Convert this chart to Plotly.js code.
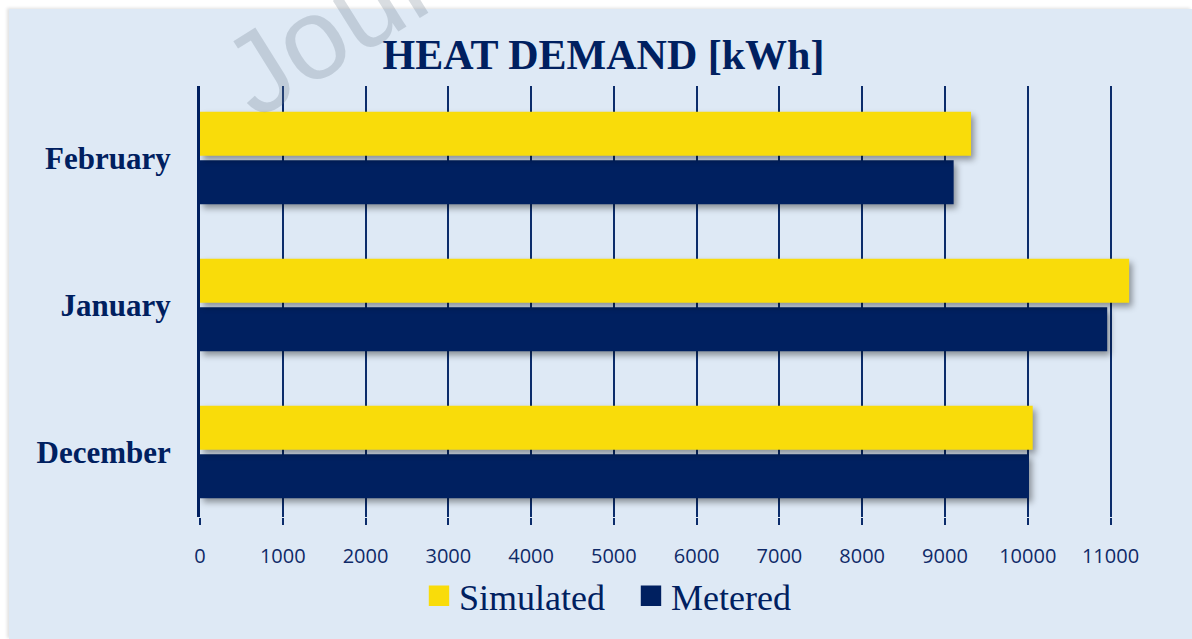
<!DOCTYPE html>
<html>
<head>
<meta charset="utf-8">
<script src="https://cdn.plot.ly/plotly-3.0.1.min.js"></script>
<style>
  html, body { margin: 0; padding: 0; background: #ffffff; }
  body { width: 1192px; height: 639px; position: relative; overflow: hidden; }
  #panel {
    position: absolute; left: 9px; top: 9px; width: 1183px; height: 630px;
    background: #dee9f5;
    box-shadow: -2px -1px 3px rgba(0,0,0,0.12);
  }
  #chart { position: absolute; left: 0; top: 0; width: 1192px; height: 639px; }
  /* soft drop shadow under every bar */
  #chart .barlayer .point path { filter: drop-shadow(3px 4px 3px rgba(0,0,0,0.38)); }
  /* larger square swatches in the legend */
  #chart .legend .legendpoints path { transform: translate(20px, 0px) scale(1.7); }
</style>
</head>
<body>
<div id="panel"></div>
<div id="chart"></div>
<script>
// Monthly heat demand, kWh
const months = ['December', 'January', 'February'];
const simulated = [10060, 11225, 9315];
const metered = [10015, 10960, 9105];
const xTicks = [0, 1000, 2000, 3000, 4000, 5000, 6000, 7000, 8000, 9000, 10000, 11000];

const NAVY = '#002060';
const YELLOW = '#f9dc0a';

const traces = [
  {
    type: 'bar', orientation: 'h', name: 'Metered',
    y: months, x: metered,
    marker: { color: NAVY, line: { width: 0 } },
    hoverinfo: 'x+name'
  },
  {
    type: 'bar', orientation: 'h', name: 'Simulated',
    y: months, x: simulated,
    marker: { color: YELLOW, line: { width: 0 } },
    hoverinfo: 'x+name'
  }
];

const layout = {
  width: 1192, height: 639,
  paper_bgcolor: 'rgba(0,0,0,0)',
  plot_bgcolor: 'rgba(0,0,0,0)',
  margin: { l: 199.5, r: 6.7, t: 86, b: 122, pad: 0 },
  barmode: 'group',
  bargap: 0.34,
  bargroupgap: 0.09,
  title: {
    text: '<b>HEAT DEMAND [kWh]</b>',
    font: { family: 'Liberation Serif', size: 42, color: NAVY },
    x: 0.5063, xanchor: 'center', xref: 'container',
    y: 0.9155, yanchor: 'middle', yref: 'container'
  },
  xaxis: {
    range: [0, 11900], autorange: false,
    tickmode: 'array', tickvals: xTicks, ticktext: xTicks.map(String),
    showgrid: true, gridcolor: '#0b2c6b', gridwidth: 2,
    zeroline: false,
    showline: false,
    ticks: 'outside', ticklen: 7, tickwidth: 2, tickcolor: '#0b2c6b',
    tickfont: { family: 'Open Sans', size: 20, color: '#0f2a68' },
    ticklabelstandoff: 14,
    fixedrange: true
  },
  yaxis: {
    type: 'category', categoryorder: 'array', categoryarray: months,
    range: [-0.442, 2.49], autorange: false,
    showgrid: false, zeroline: false,
    showline: true, linecolor: '#001f5f', linewidth: 3,
    ticks: '',
    tickfont: { family: 'Liberation Serif', size: 31, color: NAVY, weight: 'bold' },
    ticklabelstandoff: 20,
    fixedrange: true
  },
  showlegend: true,
  legend: {
    orientation: 'h', traceorder: 'reversed',
    xref: 'container', yref: 'container',
    x: 0.3515, xanchor: 'left',
    y: 0.0675, yanchor: 'middle',
    bgcolor: 'rgba(0,0,0,0)', borderwidth: 0,
    font: { family: 'Liberation Serif', size: 36, color: NAVY },
    entrywidth: 167, entrywidthmode: 'pixels',
    itemclick: false, itemdoubleclick: false
  },
  annotations: [
    {
      // faint diagonal watermark
      text: 'Journal Pre-proof',
      xref: 'paper', yref: 'paper',
      x: 0.4178, y: 1.545,
      xanchor: 'center', yanchor: 'middle',
      textangle: -32,
      showarrow: false,
      font: { family: 'Liberation Sans', size: 115, color: 'rgba(110,125,140,0.26)' }
    }
  ]
};

Plotly.newPlot('chart', traces, layout, { displayModeBar: false, staticPlot: true });
</script>
</body>
</html>
